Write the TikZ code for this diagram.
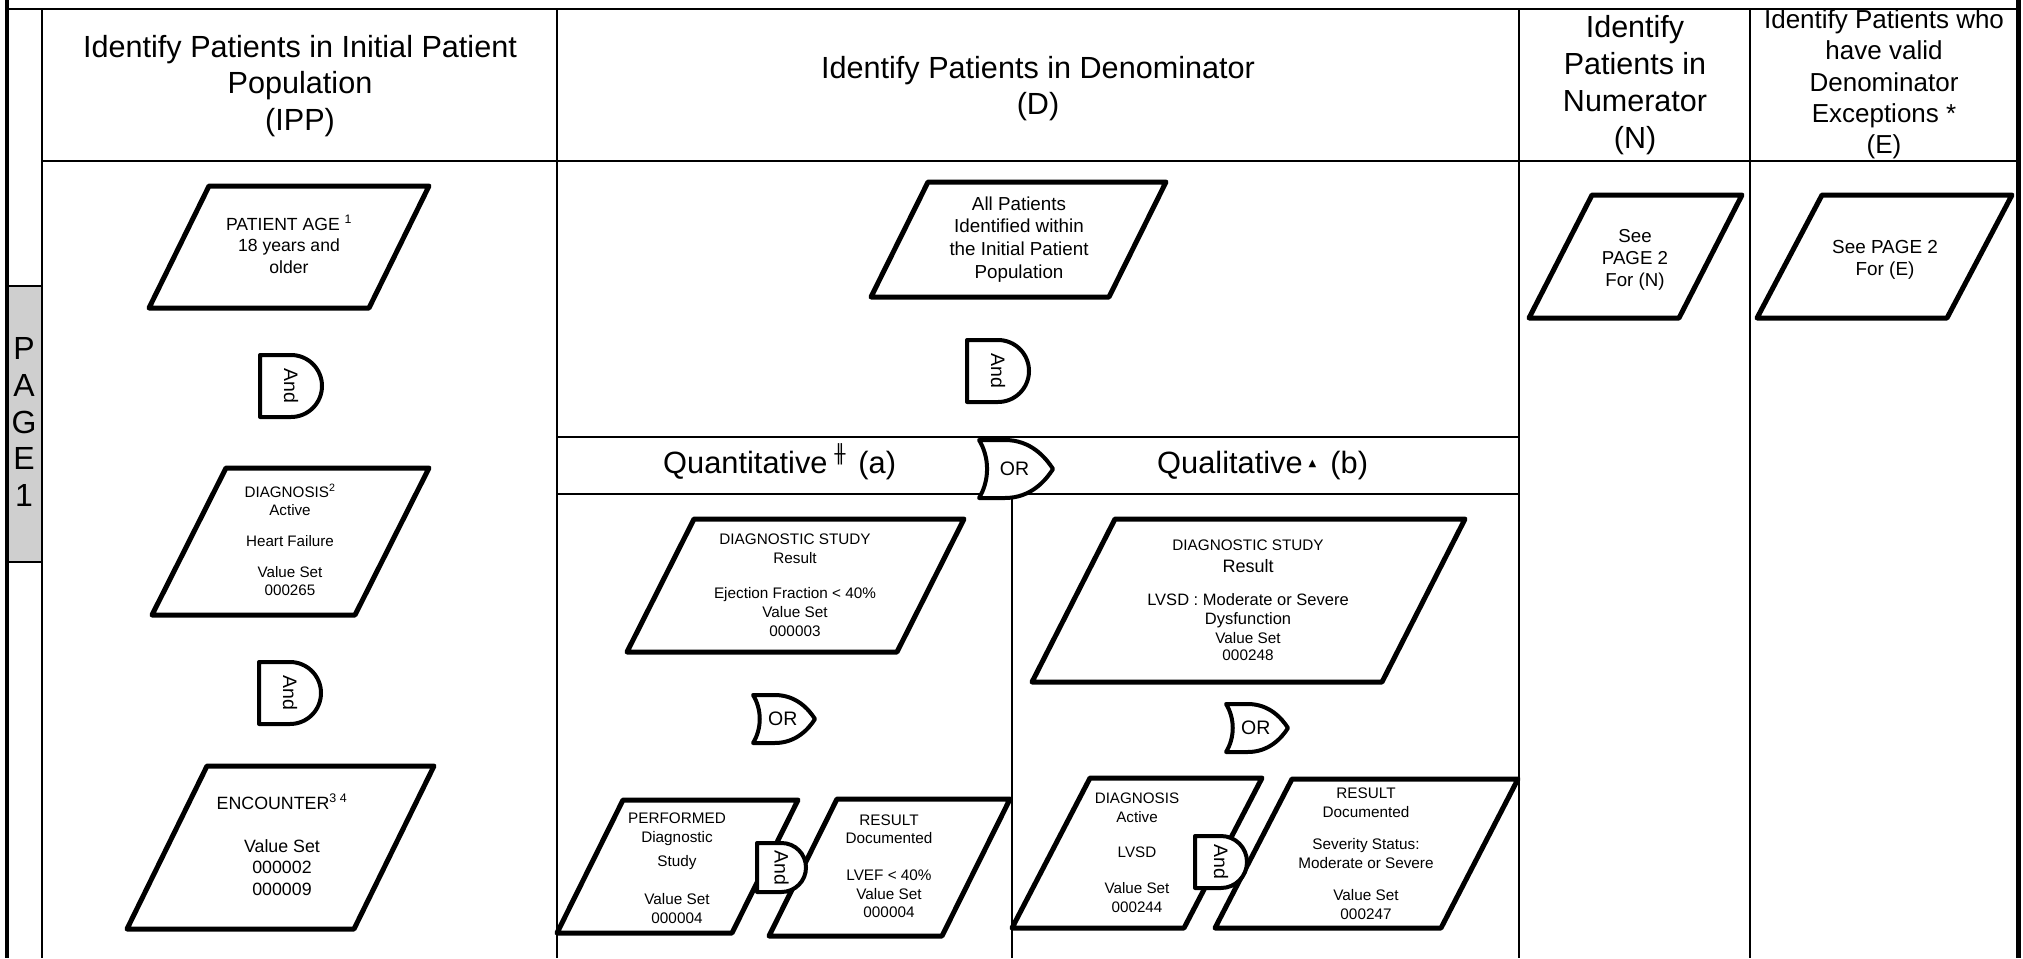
\documentclass[tikz,border=0pt]{standalone}
\usepackage{fontspec}
\setmainfont{Liberation Sans}
\newfontfamily\dejavu{DejaVu Sans}
\newcommand\fst[1]{\rule{0pt}{#1pt}}
\newcommand\pgram[5]{\draw[pg] (#1,#2) -- (#3,#4) -- ({#3+#5},#4) -- ({#1+#5},#2) -- cycle;}
\newcommand\andg[4]{%
  \draw[gate] (#2,#3) -- ({#2+#4/2},#3) .. controls ({#2+#4/2+0.2761*#4},#3) and ({#2+#4},{#3+#4/2-0.2761*#4}) .. ({#2+#4},{#3+#4/2}) .. controls ({#2+#4},{#3+#4/2+0.2761*#4}) and ({#2+#4/2+0.2761*#4},{#3+#4}) .. ({#2+#4/2},{#3+#4}) -- (#2,{#3+#4}) -- cycle;
  \node[gatetxt,rotate=-90] (#1) at ({#2+#4/2},{#3+#4/2}) {And};}
\newcommand\org[5]{%
  \draw[gate] (#2,#3) -- ({#2+0.35*#4},#3) .. controls ({#2+0.7*#4},#3) and ({#2+0.9*#4},{#3+0.3*#5}) .. ({#2+#4},{#3+#5/2}) .. controls ({#2+0.9*#4},{#3+0.7*#5}) and ({#2+0.7*#4},{#3+#5}) .. ({#2+0.35*#4},{#3+#5}) -- (#2,{#3+#5}) .. controls ({#2+0.145*#4},{#3+0.7*#5}) and ({#2+0.145*#4},{#3+0.3*#5}) .. (#2,#3) -- cycle;
  \node[gatetxt] (#1) at ({#2+0.48*#4},{#3+#5/2}) {OR};}
\begin{document}
\begin{tikzpicture}[x=1pt,y=-1pt,
  grid/.style={line width=2pt},
  pg/.style={line width=5pt,line join=round},
  gate/.style={line width=4pt,line join=round,fill=white},
  gatetxt/.style={inner sep=0pt,font=\fontsize{19.5}{22}\selectfont},
  txt/.style={inner sep=0pt,outer sep=0pt,align=center,anchor=north},
]
\useasboundingbox[fill=white] (0,0) rectangle (2023,958);
% page tab
\draw[line width=2pt,fill=black!19] (7,286) rectangle (42,562);
\node[txt,font=\fontsize{32}{36.75}\selectfont] (page) at (24,{359.5-32}) {\fst{32}P\\A\\G\\E\\1};
% grid
\draw[grid] (42,9) -- (42,958);
\draw[grid] (557,9) -- (557,958);
\draw[grid] (1519,9) -- (1519,958);
\draw[grid] (1750,9) -- (1750,958);
\draw[grid] (42,161) -- (2018,161);
\draw[grid] (557,437) -- (1519,437);
\draw[grid] (557,494) -- (1519,494);
\draw[grid] (1012,494) -- (1012,958);
\draw[line width=2.5pt] (7,9) -- (2018,9);
\draw[line width=4pt] (7,0) -- (7,958);
\draw[line width=5pt] (2018,0) -- (2018,958);
% headers
\node[txt,font=\fontsize{30.6}{36.5}\selectfont] (hipp) at (300,{57-30}) {\fst{30}Identify Patients in Initial Patient\\Population\\(IPP)};
\node[txt,font=\fontsize{30.6}{36}\selectfont] (hd) at (1038,{78-30}) {\fst{30}Identify Patients in Denominator\\(D)};
\node[txt,font=\fontsize{30.5}{37}\selectfont] (hn) at (1635,{37-30}) {\fst{30}Identify\\Patients in\\Numerator\\(N)};
\node[txt,font=\fontsize{26}{31.25}\selectfont] (he) at (1884,{28.5-26}) {\fst{26}Identify Patients who\\have valid\\Denominator\\Exceptions *\\(E)};
\node[inner sep=0pt,anchor=base west,font=\fontsize{30.8}{36}\selectfont] (quant) at (663,473) {Quantitative\kern7pt\raisebox{12.2pt}{\dejavu\fontsize{18}{18}\selectfont ╫}\kern13pt(a)};
\node[inner sep=0pt,anchor=base west,font=\fontsize{30.8}{36}\selectfont] (qual) at (1157,473) {Qualitative\kern6pt\raisebox{7pt}{\dejavu\fontsize{10}{10}\selectfont ▲}\kern14pt(b)};
% box texts
\node[txt,font=\fontsize{17.6}{21.5}\selectfont] (tpa) at (289,{230-20}) {\fst{20}PATIENT AGE \textsuperscript{1}\\18 years and\\older};
\node[txt,font=\fontsize{15.2}{18}\selectfont] (tdx) at (290,{497-20}) {\fst{20}DIAGNOSIS\textsuperscript{2}\\Active\\[13pt]Heart Failure\\[13pt]Value Set\\000265};
\node[txt,font=\fontsize{17.8}{21.5}\selectfont] (tenc) at (282,{809-20}) {\fst{20}ENCOUNTER\textsuperscript{3 4}\\[21.5pt]Value Set\\000002\\000009};
\node[txt,font=\fontsize{18.8}{22.7}\selectfont] (tap) at (1019,{210-20}) {\fst{20}All Patients\\Identified within\\the Initial Patient\\Population};
\node[txt,font=\fontsize{15.3}{19}\selectfont] (tqd) at (795,{544-20}) {\fst{20}DIAGNOSTIC STUDY\\Result\\[16pt]Ejection Fraction < 40\%\\Value Set\\000003};
\node[txt,font=\fontsize{15.3}{19}\selectfont] (tpf) at (677,{823-20}) {\fst{20}PERFORMED\\Diagnostic\\[5pt]Study\\[19pt]Value Set\\000004};
\node[txt,font=\fontsize{15.3}{18.5}\selectfont] (trq) at (889,{825-20}) {\fst{20}RESULT\\Documented\\[18.5pt]LVEF < 40\%\\Value Set\\000004};
\node[txt,font=\fontsize{15.3}{17}\selectfont] (tld) at (1248,{550-20}) {\fst{20}DIAGNOSTIC STUDY\\[5pt]{\fontsize{18}{17}\selectfont Result}\\[16pt]{\fontsize{16.5}{17}\selectfont LVSD : Moderate or Severe}\\[2pt]{\fontsize{16.5}{17}\selectfont Dysfunction}\\[2pt]Value Set\\000248};
\node[txt,font=\fontsize{15.2}{19}\selectfont] (tdq) at (1137,{803-20}) {\fst{20}DIAGNOSIS\\Active\\[16pt]LVSD\\[17pt]Value Set\\000244};
\node[txt,font=\fontsize{15.3}{19}\selectfont] (trl) at (1366,{798-20}) {\fst{20}RESULT\\Documented\\[13pt]Severity Status:\\Moderate or Severe\\[13pt]Value Set\\000247};
\node[txt,font=\fontsize{18.7}{22}\selectfont] (tnb) at (1635,{242-20}) {\fst{20}See\\PAGE 2\\For (N)};
\node[txt,font=\fontsize{18.9}{22}\selectfont] (teb) at (1885,{253-20}) {\fst{20}See PAGE 2\\For (E)};
% parallelograms
\pgram{149}{308}{209}{186}{220}
\pgram{152}{615}{226}{468}{203}
\pgram{127}{929}{207}{766}{227}
\pgram{871}{297}{928}{182}{238}
\pgram{627}{652}{694}{519}{270}
\pgram{557}{933}{623}{800}{175}
\pgram{769}{936}{837}{799}{173}
\pgram{1032}{682}{1115}{519}{350}
\pgram{1012}{928}{1090}{778}{172}
\pgram{1215}{928}{1292}{779}{226}
\pgram{1529}{318}{1592}{195}{150}
\pgram{1757}{318}{1822}{195}{190}
% gates
\andg{and1}{260}{355}{62}
\andg{and2}{259}{662}{62}
\andg{and3}{967}{340}{62}
\andg{and4}{757}{843}{49}
\andg{and5}{1195}{836}{52}
\org{or1}{979}{440}{74}{58}
\org{or2}{753}{695}{62}{48}
\org{or3}{1226}{704}{62}{48}
\end{tikzpicture}
\end{document}
